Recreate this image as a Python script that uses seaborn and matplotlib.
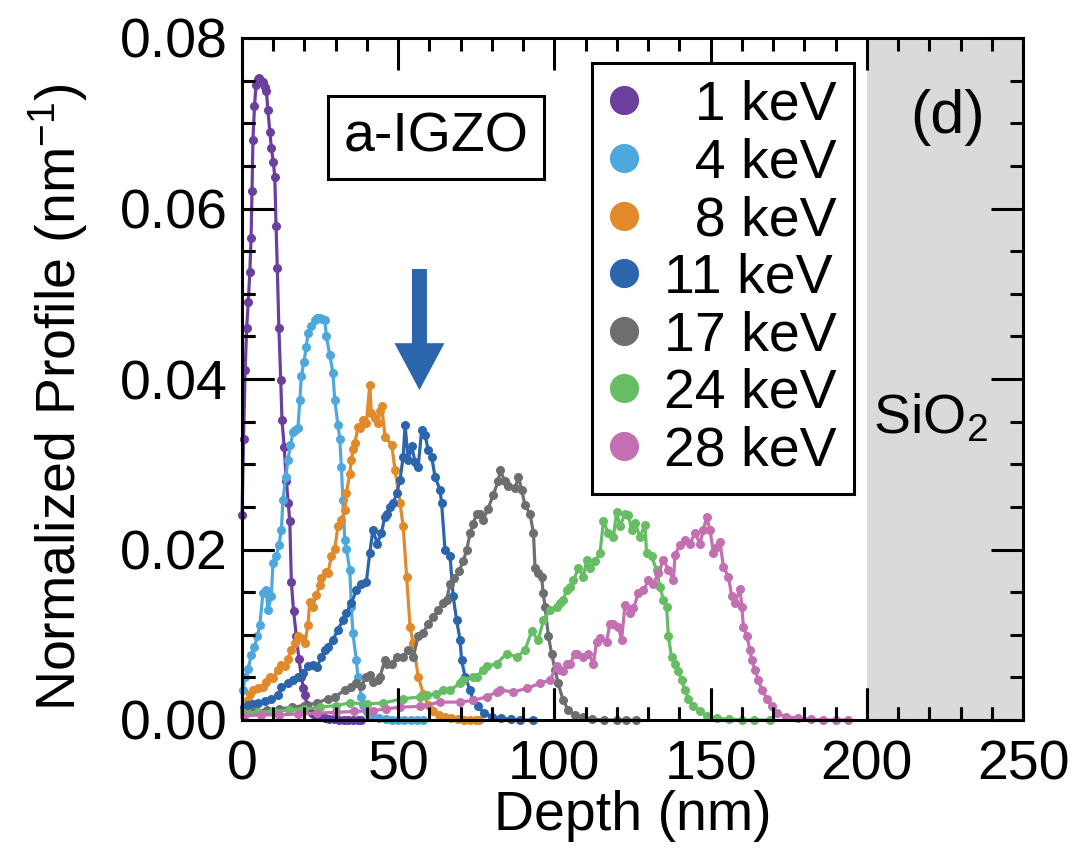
import matplotlib
matplotlib.use("Agg")
import numpy as np
import matplotlib.pyplot as plt
import pandas as pd
import seaborn as sns
from matplotlib.lines import Line2D
from matplotlib.ticker import MultipleLocator, FormatStrFormatter

# ---------------- data ----------------
energies = ["1 keV", "4 keV", "8 keV", "11 keV", "17 keV", "24 keV", "28 keV"]
legend_labels = ["  1 keV", "  4 keV", "  8 keV", "11 keV", "17 keV", "24 keV", "28 keV"]
colors = ["#6a3f9e", "#4ea8de", "#e08a2b", "#2b65ae", "#6d6e70", "#66bd63", "#c36fb2"]

d1 = [0.0, 0.5, 1.0, 1.5, 2.0, 2.5, 2.9, 3.2, 3.5, 4.0, 4.5, 5.1, 5.6, 6.2, 6.8, 7.3, 7.8, 8.3, 8.9, 9.4,
      10.0, 10.5, 10.9, 11.3, 11.8, 12.4, 12.8, 13.5, 14.2, 14.8, 15.3, 15.8, 16.5, 17.4, 18.2, 19.0, 19.6,
      20.1, 20.8, 21.5, 22.5, 23.5, 25, 26.5, 28, 29.5, 31, 32.5, 34, 35.5, 37, 38]
v1 = [0.024, 0.033, 0.041, 0.046, 0.049, 0.0525, 0.0565, 0.062, 0.068, 0.072, 0.0745, 0.0752, 0.0753, 0.0750,
      0.0748, 0.0742, 0.0738, 0.0715, 0.069, 0.0671, 0.0655, 0.0637, 0.058, 0.053, 0.046, 0.0399, 0.0352, 0.032,
      0.028, 0.0255, 0.0233, 0.0162, 0.0128, 0.0098, 0.0072, 0.0051, 0.0038, 0.0029, 0.0018, 0.0012, 0.0008,
      0.0005, 0.0003, 0.0002, 0.0001, 0.0001, 0, 0, 0, 0, 0, 0]

d2 = [0.3, 1.0, 1.9, 3.0, 4.0, 4.9, 5.7, 6.7, 7.8, 8.3, 9.4, 9.9, 11.0, 11.8, 12.6, 13.1, 14.0, 14.7, 15.5, 16.3,
      17.1, 17.9, 18.5, 19.0, 19.8, 20.6, 21.1, 22.2, 23.3, 24.1, 24.9, 25.7, 26.5, 27.0, 28.1, 29.1, 29.7, 30.7,
      31.3, 31.8, 32.3, 32.9, 33.4, 34.5, 35.0, 35.5, 36.6, 37.1, 38.2, 38.7, 40, 42, 44, 46, 48, 50, 52, 54, 56, 58]
v2 = [0.0035, 0.0050, 0.0060, 0.0076, 0.0086, 0.0098, 0.0111, 0.0149, 0.0152, 0.0129, 0.0145, 0.0184, 0.0192,
      0.0205, 0.0223, 0.0258, 0.0285, 0.0305, 0.0322, 0.0338, 0.0340, 0.0342, 0.0375, 0.0403, 0.0420, 0.0438,
      0.0454, 0.0462, 0.0469, 0.0471, 0.0471, 0.0470, 0.0469, 0.0450, 0.0428, 0.0407, 0.0375, 0.0346, 0.0330,
      0.0297, 0.0258, 0.0211, 0.0201, 0.0176, 0.0133, 0.0102, 0.0070, 0.0051, 0.0027, 0.0018, 0.0009, 0.0004,
      0.0002, 0.0001, 0, 0, 0, 0, 0, 0]

d3 = [0.8, 1.9, 2.7, 3.5, 5.1, 6.7, 7.8, 8.9, 9.9, 11.5, 12.6, 13.7, 14.7, 15.8, 16.9, 17.9, 19.0, 20.1, 21.1,
      21.7, 22.7, 23.8, 24.9, 25.4, 27.0, 27.5, 28.6, 29.7, 30.7, 31.8, 32.9, 33.4, 34.5, 35.0, 35.6, 36.1, 37.2,
      37.7, 38.8, 39.8, 40.9, 41.4, 42.5, 43.6, 44.1, 44.7, 45.8, 47.9, 49.0, 50.6, 51.6, 52.7, 53.8, 54.8, 56.4,
      58.0, 59.5, 61, 63, 65, 67, 69, 71, 73, 75, 76]
v3 = [0.0012, 0.0023, 0.0030, 0.0035, 0.0037, 0.0039, 0.0045, 0.0051, 0.0049, 0.0059, 0.0065, 0.0063, 0.0072,
      0.0082, 0.0090, 0.0098, 0.0096, 0.0090, 0.0111, 0.0139, 0.0133, 0.0147, 0.0158, 0.0166, 0.0174, 0.0172,
      0.0192, 0.0201, 0.0227, 0.0235, 0.0246, 0.0266, 0.0289, 0.0305, 0.0318, 0.0325, 0.0344, 0.0342, 0.0352,
      0.0348, 0.0393, 0.0360, 0.0354, 0.0348, 0.0362, 0.0368, 0.0332, 0.0323, 0.0293, 0.0254, 0.0227, 0.0168,
      0.0109, 0.0090, 0.0051, 0.0031, 0.0018, 0.0010, 0.0006, 0.0004, 0.0002, 0.0001, 0, 0, 0, 0]

d4 = [0.5, 1.9, 3.5, 5.1, 7.3, 9.4, 11.5, 12.6, 14.7, 16.3, 17.9, 19.5, 21.1, 22.7, 24.0, 25.4, 26.5, 27.5, 29.1,
      30.7, 32.3, 33.4, 35.0, 36.6, 38.2, 39.8, 40.9, 41.9, 43.3, 44.6, 45.7, 46.3, 47.4, 48.4, 49.5, 50.6, 51.6,
      52.2, 53.2, 54.3, 55.4, 56.4, 57.5, 58.6, 59.6, 60.7, 61.8, 63.4, 63.9, 65.0, 66.6, 67.6, 68.7, 69.8, 70.3,
      71.4, 73.0, 74.0, 75.6, 77.5, 80, 83, 86, 89, 93]
v4 = [0.0015, 0.0018, 0.0019, 0.0020, 0.0022, 0.0025, 0.0029, 0.0039, 0.0043, 0.0047, 0.0051, 0.0055, 0.0063,
      0.0065, 0.0062, 0.0074, 0.0082, 0.0086, 0.0094, 0.0106, 0.0117, 0.0125, 0.0137, 0.0152, 0.0160, 0.0162,
      0.0196, 0.0223, 0.0207, 0.0219, 0.0238, 0.0242, 0.0250, 0.0254, 0.0266, 0.0282, 0.0309, 0.0346, 0.0305,
      0.0321, 0.0303, 0.0297, 0.0340, 0.0334, 0.0317, 0.0309, 0.0285, 0.0270, 0.0254, 0.0199, 0.0192, 0.0145,
      0.0117, 0.0094, 0.0070, 0.0051, 0.0035, 0.0023, 0.0016, 0.0008, 0.0004, 0.0002, 0.0001, 0, 0]

d5 = [0.5, 4, 8, 12, 16, 20, 24, 27.5, 29.7, 32.9, 35.0, 36.6, 38.2, 39.8, 40.9, 41.9, 43.5, 44.2, 45.7, 46.3,
      47.9, 49.5, 51.6, 53.2, 54.8, 56.4, 58.0, 59.6, 61.2, 62.8, 64.4, 65.5, 66.6, 68.0, 69.5, 70.8, 71.9, 73.0,
      74.0, 75.1, 76.2, 77.2, 78.8, 80.4, 82.0, 82.6, 84.2, 85.2, 87.4, 88.5, 89.5, 90.6, 92.2, 93.3, 93.8, 94.8,
      95.9, 96.4, 97.0, 98.1, 99.1, 100.2, 101.2, 102.8, 104.4, 106.6, 109, 112, 116, 120, 123, 126]
v5 = [0.0008, 0.0010, 0.0012, 0.0013, 0.0015, 0.0017, 0.0020, 0.0025, 0.0027, 0.0035, 0.0039, 0.0043, 0.0040,
      0.0051, 0.0053, 0.0045, 0.0047, 0.0051, 0.0070, 0.0066, 0.0066, 0.0074, 0.0074, 0.0082, 0.0074, 0.0098,
      0.0102, 0.0113, 0.0121, 0.0129, 0.0137, 0.0141, 0.0160, 0.0166, 0.0175, 0.0186, 0.0199, 0.0219, 0.0230,
      0.0242, 0.0242, 0.0235, 0.0248, 0.0264, 0.0280, 0.0293, 0.0280, 0.0274, 0.0272, 0.0285, 0.0270, 0.0252,
      0.0242, 0.0219, 0.0178, 0.0172, 0.0168, 0.0149, 0.0133, 0.0098, 0.0078, 0.0059, 0.0043, 0.0023, 0.0012,
      0.0006, 0.0003, 0.0001, 0, 0, 0, 0]

d6 = [0.5, 5, 10, 15, 20, 25, 30, 34.6, 40, 45.2, 51.6, 57.0, 59.1, 62, 64.4, 66.6, 69.8, 70.8, 74.0, 75.1, 77.2,
      78.3, 81.5, 84.7, 87.9, 90.6, 92.7, 94.8, 96.5, 98.6, 100.7, 101.8, 102.8, 103.9, 105.0, 106.1, 107.7, 109.3,
      110.3, 111.4, 113.0, 114.6, 115.7, 117.3, 118.9, 119.9, 121.0, 122.6, 123.7, 124.7, 125.8, 127.4, 129.0,
      129.5, 131.1, 132.7, 133.8, 134.9, 135.9, 136.5, 137.5, 138.6, 139.7, 140.7, 141.8, 142.9, 144.5, 146.6,
      149, 152, 156, 160, 164, 169]
v6 = [0.0008, 0.0009, 0.0010, 0.0012, 0.0013, 0.0015, 0.0017, 0.0020, 0.0019, 0.0020, 0.0025, 0.0027, 0.0029,
      0.0031, 0.0035, 0.0035, 0.0043, 0.0047, 0.0051, 0.0051, 0.0059, 0.0063, 0.0066, 0.0078, 0.0074, 0.0082,
      0.0104, 0.0094, 0.0117, 0.0129, 0.0133, 0.0137, 0.0141, 0.0152, 0.0156, 0.0164, 0.0178, 0.0168, 0.0188,
      0.0178, 0.0186, 0.0196, 0.0233, 0.0219, 0.0215, 0.0244, 0.0227, 0.0242, 0.0240, 0.0223, 0.0231, 0.0215,
      0.0229, 0.0196, 0.0192, 0.0176, 0.0156, 0.0141, 0.0133, 0.0098, 0.0074, 0.0066, 0.0057, 0.0047, 0.0035,
      0.0025, 0.0016, 0.0010, 0.0005, 0.0002, 0.0001, 0, 0, 0]

d7 = [0.5, 6, 12, 18, 24, 30, 36, 42, 46, 50.6, 57.0, 63.4, 69.8, 74.0, 78.3, 81.5, 82.6, 86.9, 91.1, 95.4, 98.6,
      100.7, 101.8, 102.8, 103.9, 105.0, 106.6, 107.1, 109.3, 110.9, 112.5, 113.5, 114.6, 116.7, 117.8, 118.9,
      120.5, 121.5, 122.6, 124.2, 125.3, 126.9, 128.5, 130.1, 131.7, 133.3, 134.9, 136.5, 138.1, 138.6, 140.2,
      141.8, 143.4, 145.0, 146.6, 147.7, 148.7, 149.8, 150.9, 151.9, 153.0, 154.1, 155.7, 156.8, 157.8, 159.4,
      160.0, 160.5, 161.6, 162.6, 163.2, 164.2, 165.3, 166.4, 168.0, 169.6, 171.2, 174, 178, 182, 186, 190, 194]
v7 = [0.0005, 0.0006, 0.0006, 0.0007, 0.0008, 0.0009, 0.0010, 0.0011, 0.0013, 0.0015, 0.0016, 0.0021, 0.0021,
      0.0023, 0.0027, 0.0033, 0.0035, 0.0033, 0.0037, 0.0043, 0.0047, 0.0063, 0.0059, 0.0057, 0.0066, 0.0066,
      0.0078, 0.0078, 0.0074, 0.0078, 0.0066, 0.0092, 0.0096, 0.0092, 0.0113, 0.0113, 0.0109, 0.0094, 0.0135,
      0.0125, 0.0131, 0.0149, 0.0152, 0.0164, 0.0160, 0.0172, 0.0188, 0.0176, 0.0164, 0.0194, 0.0205, 0.0211,
      0.0207, 0.0219, 0.0207, 0.0223, 0.0238, 0.0223, 0.0196, 0.0203, 0.0209, 0.0180, 0.0168, 0.0145, 0.0137,
      0.0154, 0.0133, 0.0109, 0.0098, 0.0082, 0.0070, 0.0059, 0.0047, 0.0035, 0.0025, 0.0016, 0.0008, 0.0004,
      0.0002, 0.0001, 0, 0, 0]

depths = [d1, d2, d3, d4, d5, d6, d7]
values = [v1, v2, v3, v4, v5, v6, v7]

df = pd.concat(
    [pd.DataFrame({"Depth": d, "Profile": v, "Energy": e}) for e, d, v in zip(energies, depths, values)],
    ignore_index=True,
)

# ---------------- style ----------------
sns.set_theme(style="ticks")
plt.rcParams["font.family"] = ["Liberation Sans", "DejaVu Sans"]
plt.rcParams["mathtext.default"] = "regular"
plt.rcParams["text.color"] = "black"
FS = 40

fig = plt.figure(figsize=(10.79, 8.59), dpi=100)
ax = fig.add_axes([242 / 1079, 1 - 720 / 859, 781 / 1079, 682 / 859])

ax.axvspan(200, 250, color="#d9dadb", lw=0, zorder=0)

sns.lineplot(
    data=df, x="Depth", y="Profile", hue="Energy", hue_order=energies, palette=colors,
    marker="o", markersize=6.5, markeredgewidth=0, linewidth=2.3,
    sort=False, estimator=None, legend=False, ax=ax, clip_on=False,
)

xmaj, xmin = MultipleLocator(50), MultipleLocator(10)
ymaj, ymin = MultipleLocator(0.02), MultipleLocator(0.005)
ax.set_xlim(0, 250)
ax.set_ylim(0, 0.08)
ax.xaxis.set_major_locator(xmaj)
ax.xaxis.set_minor_locator(xmin)
ax.yaxis.set_major_locator(ymaj)
ax.yaxis.set_minor_locator(ymin)
ax.yaxis.set_major_formatter(FormatStrFormatter("%.2f"))

for s in ax.spines.values():
    s.set_linewidth(2.2)
    s.set_color("black")

ax.tick_params(which="both", direction="in", bottom=True, left=True, top=True, right=True,
               width=2.2, color="black", labelsize=FS, labelcolor="black")
ax.tick_params(which="major", length=23)
ax.tick_params(which="minor", length=9.5)
ax.tick_params(axis="x", which="major", pad=14)
ax.tick_params(axis="y", which="major", pad=10)

# inward bottom / left tick strokes, placed at the locators' own tick positions
xt_major = [t for t in xmaj.tick_values(0, 250) if 0 < t < 250]
xt_minor = [t for t in xmin.tick_values(0, 250) if 0 < t < 250 and t % 50 != 0]
yt_major = [t for t in ymaj.tick_values(0, 0.08) if 1e-9 < t < 0.08 - 1e-9]
yt_minor = [t for t in ymin.tick_values(0, 0.08)
            if 1e-9 < t < 0.08 - 1e-9 and abs(t / 0.02 - round(t / 0.02)) > 1e-6]
xtr = ax.get_xaxis_transform()
ytr = ax.get_yaxis_transform()
ax.vlines(xt_major, 0, 32 / 682, transform=xtr, colors="black", linewidth=2.2, clip_on=False, zorder=4)
ax.vlines(xt_minor, 0, 13 / 682, transform=xtr, colors="black", linewidth=2.2, clip_on=False, zorder=4)
ax.hlines(yt_major, 0, 32 / 781, transform=ytr, colors="black", linewidth=2.2, clip_on=False, zorder=4)
ax.hlines(yt_minor, 0, 13 / 781, transform=ytr, colors="black", linewidth=2.2, clip_on=False, zorder=4)
ax.set_xlim(0, 250)
ax.set_ylim(0, 0.08)

ax.set_xlabel("Depth (nm)", fontsize=FS, color="black")
ax.set_ylabel("Normalized Profile (nm$^{-1}$)", fontsize=FS, color="black")
ax.xaxis.set_label_coords(0.5, -0.102)
ax.yaxis.set_label_coords(-0.195, 0.474)

# legend
handles = [Line2D([], [], marker="o", linestyle="", markersize=21, markeredgewidth=0, color=c) for c in colors]
leg = ax.legend(handles, legend_labels, loc="upper left", bbox_to_anchor=(0.448, 0.963), borderaxespad=0,
                fontsize=FS, frameon=True, fancybox=False, edgecolor="black", framealpha=1,
                borderpad=0.3, handlelength=0.55, handletextpad=0.45, labelspacing=0.1)
leg.get_frame().set_linewidth(2.2)
for t in leg.get_texts():
    t.set_color("black")

# annotations
ax.text(0.2484, 0.854, "a-IGZO", transform=ax.transAxes, fontsize=FS, ha="center", va="center",
        color="black",
        bbox=dict(boxstyle="square,pad=0.28", facecolor="white", edgecolor="black", linewidth=2.2))
ax.text(0.904, 0.883, "(d)", transform=ax.transAxes, fontsize=44, ha="center", va="center", color="black")
ax.text(0.808, 0.421, "SiO$_2$", transform=ax.transAxes, fontsize=FS, ha="left", va="baseline",
        color="black")
ax.arrow(56.8, 0.0529, 0, -0.0142, width=4.8, head_width=16, head_length=0.0055,
         length_includes_head=True, color="#2b65ae", lw=0, zorder=6)

fig.savefig("out.png", dpi=100)
